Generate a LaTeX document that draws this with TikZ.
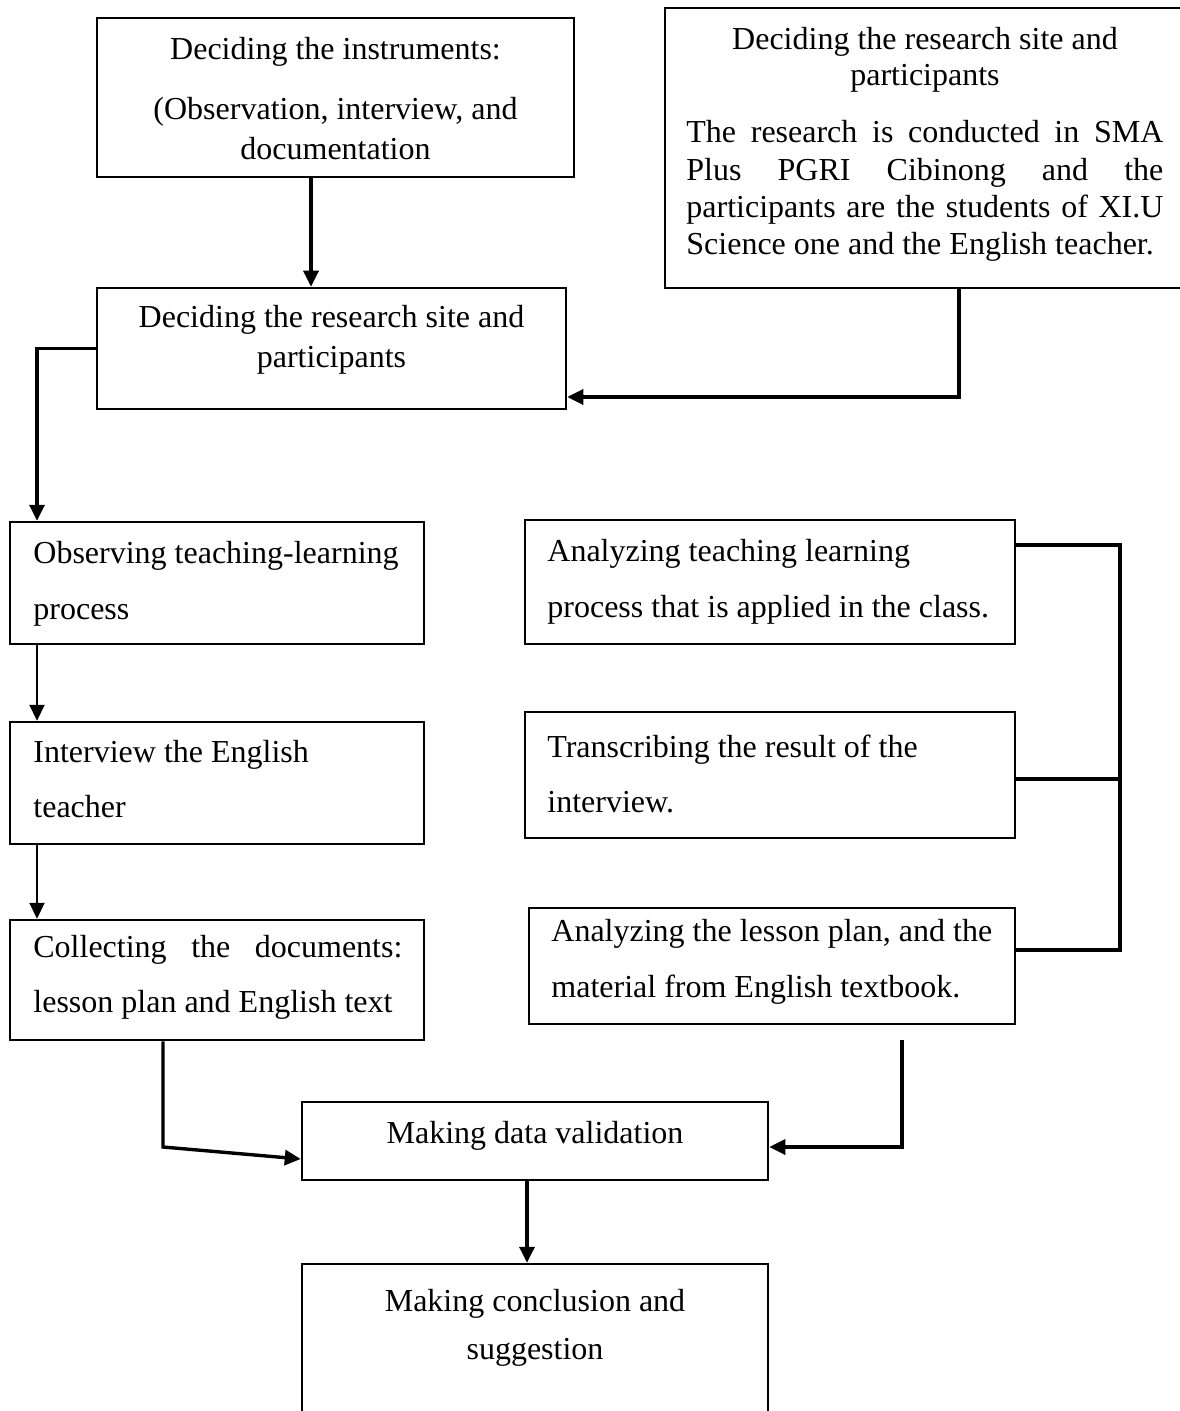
\documentclass[tikz,border=0pt]{standalone}
\usepackage{fontspec}
\setmainfont{Liberation Serif}
\usetikzlibrary{arrows.meta}
\begin{document}
\begin{tikzpicture}[x=0.5pt,y=-0.5pt,
  box/.style={draw, line width=1.25pt, inner sep=0pt, rectangle},
  conn/.style={line width=1.7pt},
  arr/.style={conn, -{Triangle[length=8pt,width=7.5pt]}},
  thinarr/.style={line width=1.1pt, -{Triangle[length=8pt,width=7.5pt]}},
  txt/.style={inner sep=0pt, font=\fontsize{16}{19}\selectfont}]
\useasboundingbox (0,0) rectangle (1179,1411);
% boxes
\node[box, minimum width=238.5pt, minimum height=79.5pt] (A) at (335.5,97.5) {};
\node[box, minimum width=234.5pt, minimum height=60.5pt] (B) at (331.5,348.5) {};
\node[box, minimum width=258pt, minimum height=140pt] (C) at (923,148) {};
\node[box, minimum width=207pt, minimum height=61pt] (D) at (217,583) {};
\node[box, minimum width=207pt, minimum height=61pt] (E) at (217,783) {};
\node[box, minimum width=207pt, minimum height=60pt] (F) at (217,980) {};
\node[box, minimum width=245pt, minimum height=62pt] (G) at (770,582) {};
\node[box, minimum width=245pt, minimum height=63pt] (H) at (770,775) {};
\node[box, minimum width=243pt, minimum height=58pt] (I) at (772,966) {};
\node[box, minimum width=233pt, minimum height=39pt] (J) at (535,1141) {};
\node[box, minimum width=233pt, minimum height=83pt] (K) at (535,1347) {};
% texts
\node[txt, anchor=base] (A1) at (335.5,60) {Deciding the instruments:};
\node[txt, anchor=base] (A2) at (335.5,120) {(Observation, interview, and};
\node[txt, anchor=base] (A3) at (335.5,160) {documentation};
\node[txt, anchor=base] (B1) at (331.5,328) {Deciding the research site and};
\node[txt, anchor=base] (B2) at (331.5,368) {participants};
\node[txt, anchor=base] (C1) at (925,50) {Deciding the research site and};
\node[txt, anchor=base] (C2) at (925,86) {participants};
\node[txt, anchor=base west] (C3) at (686,143) {\makebox[238.5pt][s]{The research is conducted in SMA}};
\node[txt, anchor=base west] (C4) at (686,181) {\makebox[238.5pt][s]{Plus PGRI Cibinong and the}};
\node[txt, anchor=base west] (C5) at (686,218) {\makebox[238.5pt][s]{participants are the students of XI.U}};
\node[txt, anchor=base west] (C6) at (686,255) {Science one and the English teacher.};
\node[txt, anchor=base west] (D1) at (33,563) {Observing teaching-learning};
\node[txt, anchor=base west] (D2) at (33,619) {process};
\node[txt, anchor=base west] (E1) at (33,762) {Interview the English};
\node[txt, anchor=base west] (E2) at (33,817) {teacher};
\node[txt, anchor=base west] (F1) at (33,957) {\makebox[184.5pt][s]{Collecting the documents:}};
\node[txt, anchor=base west] (F2) at (33,1012) {lesson plan and English text};
\node[txt, anchor=base west] (G1) at (547,561) {Analyzing teaching learning};
\node[txt, anchor=base west] (G2) at (547,617) {process that is applied in the class.};
\node[txt, anchor=base west] (H1) at (547,757) {Transcribing the result of the};
\node[txt, anchor=base west] (H2) at (547,812) {interview.};
\node[txt, anchor=base west] (I1) at (551,941) {Analyzing the lesson plan, and the};
\node[txt, anchor=base west] (I2) at (551,997) {material from English textbook.};
\node[txt, anchor=base] (J1) at (535,1143) {Making data validation};
\node[txt, anchor=base] (K1) at (535,1311) {Making conclusion and};
\node[txt, anchor=base] (K2) at (535,1359) {suggestion};
% helper coordinates
\coordinate (xa) at (311,0);
\coordinate (xc) at (959,0);
\coordinate (yc) at (0,397);
\coordinate (xl) at (37,0);
\coordinate (xr) at (1120,0);
\coordinate (y1) at (0,545);
\coordinate (y2) at (0,779);
\coordinate (y3) at (0,950);
\coordinate (xf) at (163,0);
\coordinate (yf) at (0,1147);
\coordinate (yj) at (0,1159);
\coordinate (ri) at (902,1040);
\coordinate (xk) at (527,0);
% connectors
\draw[arr] (A.south -| xa) -- (B.north -| xa);
\draw[arr] (C.south -| xc) |- (B.east |- yc);
\draw[arr] (B.west) -| (D.north -| xl);
\draw[thinarr] (D.south -| xl) -- (E.north -| xl);
\draw[thinarr] (E.south -| xl) -- (F.north -| xl);
\draw[conn] (G.east |- y1) -- (y1 -| xr) -- (y3 -| xr) -- (I.east |- y3);
\draw[conn] (H.east |- y2) -- (y2 -| xr);
\draw[arr] (F.south -| xf) -- (xf |- yf) -- (J.west |- yj);
\draw[arr] (ri) |- (J.east |- yf);
\draw[arr] (J.south -| xk) -- (K.north -| xk);
\end{tikzpicture}
\end{document}
